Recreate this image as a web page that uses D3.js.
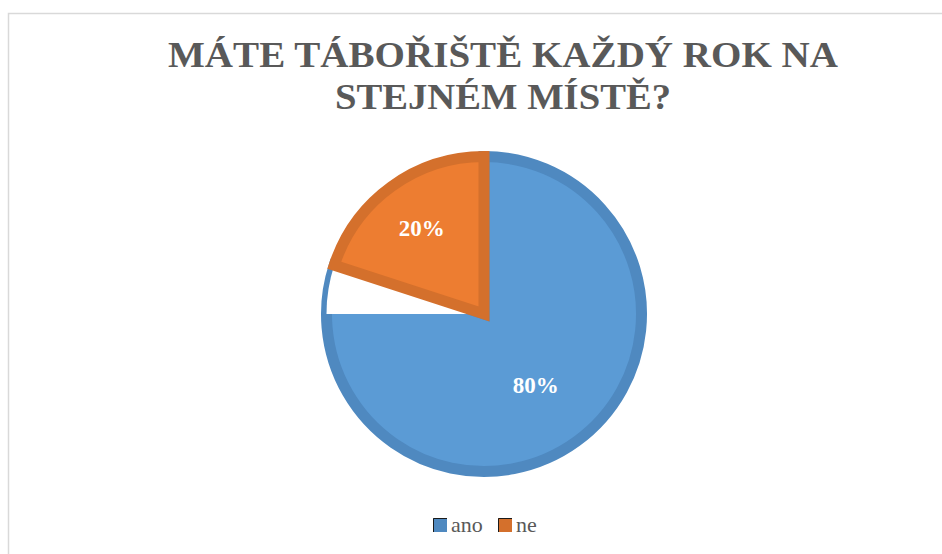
<!DOCTYPE html>
<html>
<head>
<meta charset="utf-8">
<script src="https://cdn.jsdelivr.net/npm/d3@7"></script>
<style>
  html, body { margin: 0; padding: 0; background: #fff; }
  svg { display: block; }
  .serif { font-family: 'Liberation Serif', 'DejaVu Serif', 'Noto Serif', 'Nimbus Roman', 'FreeSerif', 'Times', serif; }
</style>
</head>
<body>
<div id="chart"></div>
<script>
// data
const categories = ['ano', 'ne'];
const values = [80, 20];
const colors = ['#5b9bd5', '#ed7d31'];
const strokeColors = ['#4f89c0', '#d4702c'];
const titleLines = ['MÁTE TÁBOŘIŠTĚ KAŽDÝ ROK NA', 'STEJNÉM MÍSTĚ?'];

const width = 942, height = 554;
const cx = 484, cy = 314;
const radius = 157.5;

const svg = d3.select('#chart').append('svg')
    .attr('width', width)
    .attr('height', height);

// chart frame
svg.append('rect')
    .attr('x', 8.5).attr('y', 13.5)
    .attr('width', 1000).attr('height', 700)
    .attr('fill', '#fff')
    .attr('stroke', '#d9d9d9')
    .attr('stroke-width', 1.5);

// title
const titleWidths = [670, 336];
const titleBase = [67, 109];
svg.selectAll('text.title')
    .data(titleLines)
    .enter()
    .append('text')
    .attr('class', 'title serif')
    .attr('x', (d, i) => 503 - titleWidths[i] / 2)
    .attr('y', (d, i) => titleBase[i])
    .attr('textLength', (d, i) => titleWidths[i])
    .attr('lengthAdjust', 'spacingAndGlyphs')
    .style('font-weight', 'bold')
    .style('font-size', '36px')
    .attr('fill', '#595959')
    .text(d => d);

const slices = categories.map((c, i) => ({ name: c, value: values[i], i }));

const pie = d3.pie().sort(null).value(d => d.value);
const arcs = pie(slices);

const arc = d3.arc().innerRadius(0).outerRadius(radius);

const g = svg.append('g').attr('transform', `translate(${cx},${cy})`);

// first slice (blue)
g.append('path')
    .attr('d', arc(arcs[0]))
    .attr('fill', colors[0])
    .attr('stroke', strokeColors[0])
    .attr('stroke-width', 11)
    .attr('stroke-linejoin', 'miter');

// gap left in the original rendering between 9 o'clock and the second slice
g.append('path')
    .attr('d', d3.arc().innerRadius(0).outerRadius(radius)({
        startAngle: Math.PI * 1.5,
        endAngle: arcs[1].startAngle
    }))
    .attr('fill', '#fff');

// second slice (orange)
g.append('path')
    .attr('d', arc(arcs[1]))
    .attr('fill', colors[1])
    .attr('stroke', strokeColors[1])
    .attr('stroke-width', 11)
    .attr('stroke-linejoin', 'miter');

// data labels
const labelRadius = [88, 106];
g.selectAll('text.label')
    .data(arcs)
    .enter()
    .append('text')
    .attr('class', 'label serif')
    .attr('transform', (d, i) => {
        const c = d3.arc().innerRadius(labelRadius[i]).outerRadius(labelRadius[i]).centroid(d);
        return `translate(${c[0]},${c[1]})`;
    })
    .attr('text-anchor', 'middle')
    .attr('dy', '0.35em')
    .style('font-weight', 'bold')
    .style('font-size', '23px')
    .attr('fill', '#fff')
    .text(d => Math.round(d.value / d3.sum(values) * 100) + '%');

// legend
const legendX = [433, 498];
const legend = svg.selectAll('g.legend')
    .data(slices)
    .enter()
    .append('g')
    .attr('class', 'legend')
    .attr('transform', (d, i) => `translate(${legendX[i]},518)`);

legend.append('rect')
    .attr('width', 14).attr('height', 14)
    .attr('fill', d => strokeColors[d.i]);

legend.append('path')
    .attr('d', 'M0.5,14V0.5H14')
    .attr('fill', 'none')
    .attr('stroke', '#1a1a1a')
    .attr('stroke-width', 1);

legend.append('text')
    .attr('class', 'serif')
    .attr('x', 18)
    .attr('y', 14)
    .style('font-size', '22px')
    .attr('fill', '#595959')
    .text(d => d.name);
</script>
</body>
</html>
